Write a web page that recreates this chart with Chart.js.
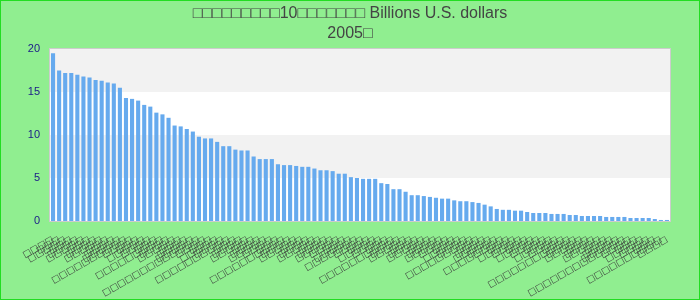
<!DOCTYPE html>
<html>
<head>
<meta charset="utf-8">
<script src="https://cdn.jsdelivr.net/npm/chart.js@4"></script>
<style>
    html, body { margin: 0; padding: 0; }
    #wrap { width: 700px; height: 300px; box-sizing: border-box; border: 1px solid #22dd22; background: #90ee90; }
</style>
</head>
<body>
<div id="wrap"><canvas id="chart" width="698" height="298"></canvas></div>
<script>
// glyphs the original could not render show up as boxes, kept as text
const titleLines = ['□□□□□□□□□10□□□□□□□ Billions U.S. dollars', '2005□'];

const categories = [
    '□□□□', '□□□', '□□□□□', '□□□', '□□□□', '□□□□□', '□□□', '□□□□', '□□□□□', '□□□',
    '□□□□', '□□□□□', '□□□□□□□□□□', '□□□□', '□□□', '□□□□□', '□□□□', '□□□', '□□□□□□□□□', '□□□□',
    '□□□□□', '□□□', '□□□□', '□□□□□', '□□□□□□□□□□□□□', '□□□□', '□□□', '□□□□□', '□□□□', '□□□□□□□□□□',
    '□□□', '□□□□', '□□□□□', '□□□', '□□□□', '□□□□□', '□□□□', '□□□', '□□□□□□□□□□', '□□□□',
    '□□□□□', '□□□', '□□□□', '□□□□□', '□□□', '□□□□', '□□□□□', '□□□□', '□□□', '□□□□□',
    '□□□□□□□', '□□□□', '□□□', '□□□□□', '□□□□', '□□□', '□□□□□□□□□□', '□□□□', '□□□□□', '□□□',
    '□□□□', '□□□□□', '□□□', '□□□□', '□□□□□', '□□□□', '□□□', '□□□□□', '□□□□', '□□□□□□□□□',
    '□□□', '□□□□', '□□□□□', '□□□□', '□□□□□□□□', '□□□', '□□□□□', '□□□□', '□□□', '□□□□□',
    '□□□□', '□□□', '□□□□□', '□□□□', '□□□', '□□□□□□□□□□□', '□□□□', '□□□□□', '□□□', '□□□□',
    '□□□□□', '□□□', '□□□□', '□□□□□', '□□□□□□□□□□□□□', '□□□□', '□□□', '□□□□□', '□□□□', '□□□',
    '□□□□□□□□□□', '□□□□',
];

const values = [
    19.5, 17.5, 17.2, 17.2, 17.0, 16.8, 16.7, 16.4, 16.3, 16.1,
    16.0, 15.5, 14.3, 14.2, 14.0, 13.5, 13.3, 12.6, 12.4, 12.0,
    11.1, 11.0, 10.7, 10.4, 9.8, 9.6, 9.6, 9.2, 8.7, 8.7,
    8.3, 8.2, 8.2, 7.5, 7.2, 7.2, 7.2, 6.6, 6.5, 6.5,
    6.4, 6.3, 6.3, 6.1, 5.9, 5.9, 5.8, 5.5, 5.5, 5.1,
    5.0, 4.9, 4.9, 4.9, 4.4, 4.3, 3.7, 3.7, 3.4, 3.0,
    3.0, 2.9, 2.8, 2.7, 2.6, 2.6, 2.4, 2.3, 2.3, 2.2,
    2.1, 1.9, 1.7, 1.4, 1.3, 1.3, 1.2, 1.2, 1.05, 0.93,
    0.93, 0.93, 0.82, 0.82, 0.82, 0.7, 0.7, 0.58, 0.58, 0.58,
    0.58, 0.47, 0.47, 0.47, 0.47, 0.35, 0.35, 0.35, 0.35, 0.23,
    0.12, 0.12,
];

const yTicks = [0, 5, 10, 15, 20];
const bands = [[5, 10], [15, 20]];

const plotBackground = {
    id: 'plotBackground',
    beforeDatasetsDraw(chart) {
        const { ctx, chartArea: a, scales: { y } } = chart;
        ctx.save();
        ctx.fillStyle = '#ffffff';
        ctx.fillRect(a.left, a.top, a.width, a.height);
        ctx.fillStyle = '#f2f2f2';
        bands.forEach(([lo, hi]) => {
            const top = y.getPixelForValue(hi);
            const bottom = y.getPixelForValue(lo);
            ctx.fillRect(a.left, top, a.width, bottom - top);
        });
        ctx.restore();
    },
    afterDatasetsDraw(chart) {
        const { ctx, chartArea: a } = chart;
        ctx.save();
        ctx.strokeStyle = '#cccccc';
        ctx.lineWidth = 1;
        ctx.strokeRect(a.left - 0.5, a.top - 0.5, a.width + 1, a.height + 1);
        ctx.restore();
    },
};

new Chart(document.getElementById('chart'), {
    type: 'bar',
    data: {
        labels: categories,
        datasets: [{
            data: values,
            backgroundColor: '#66aaee',
            borderWidth: 0,
            categoryPercentage: 0.9,
            barPercentage: 0.75,
        }],
    },
    options: {
        responsive: false,
        animation: false,
        layout: { padding: 0 },
        plugins: {
            legend: { display: false },
            tooltip: { enabled: false },
            title: {
                display: true,
                text: titleLines,
                color: '#444444',
                font: { family: "'Liberation Sans', Arial, sans-serif", size: 16, weight: 'normal', lineHeight: 1.25 },
                padding: { top: 3, bottom: 5 },
            },
        },
        scales: {
            x: {
                grid: { display: false },
                border: { display: false },
                afterFit: (scale) => { scale.height = 78; },
                ticks: {
                    autoSkip: false,
                    maxRotation: 30,
                    minRotation: 30,
                    padding: 5,
                    color: '#3a3a3a',
                    font: { family: "'DejaVu Sans', sans-serif", size: 9 },
                },
            },
            y: {
                min: 0,
                max: 20,
                grid: { display: false, drawTicks: false },
                border: { display: false },
                afterFit: (scale) => { scale.width = 49; },
                afterBuildTicks: (scale) => { scale.ticks = yTicks.map((v) => ({ value: v })); },
                ticks: {
                    padding: 10,
                    color: '#1a1a88',
                    font: { family: "'Liberation Sans', Arial, sans-serif", size: 11 },
                },
            },
            // empty right gutter so the title stays centred on the page
            gutter: {
                type: 'linear',
                position: 'right',
                grid: { display: false, drawTicks: false },
                border: { display: false },
                ticks: { display: false },
                afterFit: (scale) => { scale.width = 29; },
            },
        },
    },
    plugins: [plotBackground],
});
</script>
</body>
</html>
